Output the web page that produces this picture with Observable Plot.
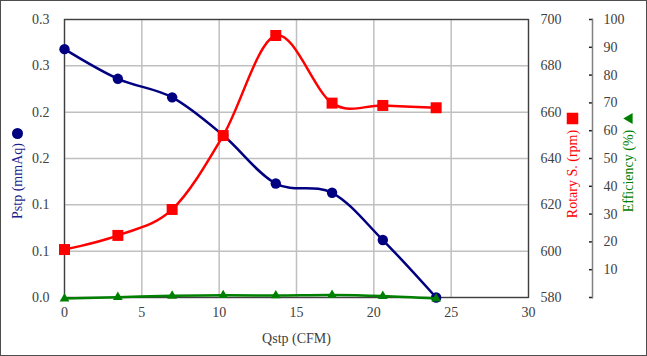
<!DOCTYPE html>
<html><head><meta charset="utf-8">
<script src="https://cdn.jsdelivr.net/npm/d3@7"></script>
<script src="https://cdn.jsdelivr.net/npm/@observablehq/plot@0.6"></script>
<style>
body{margin:0;background:#fff;}
#chart{width:645px;height:354px;border:1px solid #4d4d4d;background:#fff;}
#chart svg, #chart svg text{font-family:"Liberation Serif","Times New Roman","DejaVu Serif",serif !important;}
</style></head><body><div id="chart"></div>
<script>
// Data
const qstp = [0, 3.45, 6.96, 10.26, 13.66, 17.3, 20.58, 24.03];          // Qstp (CFM)
const pstp = [0.268, 0.236, 0.216, 0.175, 0.123, 0.113, 0.062, 0.0];      // Pstp (mmAq)
const rpm  = [600.7, 606.8, 618, 649.9, 693.1, 663.9, 662.9, 661.9];      // Rotary S. (rpm)
const eff  = [-0.4, 0.1, 0.6, 0.8, 0.7, 0.9, 0.5, -0.4];                  // Efficiency (%)

// Ticks and tick labels
const xTicks = [0, 5, 10, 15, 20, 25, 30];
const pstpTicks = [0, 0.05, 0.1, 0.15, 0.2, 0.25, 0.3];
const pstpTickLabels = ["0.0", "0.1", "0.1", "0.2", "0.2", "0.3", "0.3"];
const rpmTicks = [580, 600, 620, 640, 660, 680, 700];
const effTicks = [0, 10, 20, 30, 40, 50, 60, 70, 80, 90, 100];
const effTickLabels = ["", "10", "20", "30", "40", "50", "60", "70", "80", "90", "100"];

// map secondary axes onto the primary y scale [0, 0.3]
const rpmDomain = [580, 700];
const effDomain = [0, 100];
const yMax = 0.3;
const toYrpm = v => (v - rpmDomain[0]) / (rpmDomain[1] - rpmDomain[0]) * yMax;
const toYeff = v => (v - effDomain[0]) / (effDomain[1] - effDomain[0]) * yMax;

const rows = qstp.map((q, i) => ({q, pstp: pstp[i], rpm: rpm[i], eff: eff[i]}));

const pstpLabelMap = new Map(pstpTicks.map((t, i) => [t, pstpTickLabels[i]]));
const rpmY = rpmTicks.map(toYrpm);
const rpmLabelMap = new Map(rpmY.map((t, i) => [t, String(rpmTicks[i])]));
const effY = effTicks.map(toYeff);
const effLabelMap = new Map(effY.map((t, i) => [t, effTickLabels[i]]));

const navy = "#000080", red = "#ff0000", green = "#008000", tickColor = "#404040";
const serif = '"Liberation Serif", "Times New Roman", serif';

const chart = Plot.plot({
  width: 645, height: 354,
  marginLeft: 63, marginRight: 118, marginTop: 18, marginBottom: 58,
  style: {fontFamily: serif, fontSize: "14px", background: "#fff", color: tickColor, overflow: "visible"},
  x: {domain: [0, 30], axis: null},
  y: {domain: [0, yMax], axis: null},
  marks: [
    Plot.gridX(xTicks, {stroke: "#c0c0c0", strokeOpacity: 1, strokeWidth: 1.5}),
    Plot.gridY(pstpTicks, {stroke: "#c0c0c0", strokeOpacity: 1, strokeWidth: 1.5}),
    Plot.frame({stroke: "#404040", strokeWidth: 1.3}),
    Plot.axisX(xTicks, {anchor: "bottom", tickSize: 0, tickPadding: 10, tickFormat: d => String(d), label: null, fill: tickColor}),
    Plot.axisY(pstpTicks, {anchor: "left", tickSize: 0, tickPadding: 15, tickFormat: d => pstpLabelMap.get(d), label: null, fill: tickColor}),
    Plot.axisY(rpmY, {anchor: "right", tickSize: 0, tickPadding: 12, tickFormat: d => rpmLabelMap.get(d), label: null, fill: tickColor}),
    Plot.axisY(effY, {anchor: "right", dx: 64, tickSize: -4, tickPadding: 15, tickFormat: d => effLabelMap.get(d), label: null, fill: tickColor, stroke: "#202020", strokeWidth: 1.5}),
    Plot.frame({anchor: "right", dx: 64, stroke: "#808080", strokeWidth: 1.5}),

    Plot.line(rows, {x: "q", y: "pstp", stroke: navy, strokeWidth: 2.5, curve: "cardinal"}),
    Plot.dot(rows, {x: "q", y: "pstp", r: 5.2, fill: navy, stroke: null}),
    Plot.line(rows, {x: "q", y: d => toYrpm(d.rpm), stroke: red, strokeWidth: 2.5, curve: "cardinal"}),
    Plot.dot(rows, {x: "q", y: d => toYrpm(d.rpm), symbol: "square", r: 6.2, fill: red, stroke: null}),
    Plot.line(rows, {x: "q", y: d => toYeff(d.eff), stroke: green, strokeWidth: 2.5, curve: "cardinal"}),
    Plot.dot(rows, {x: "q", y: d => toYeff(d.eff), symbol: "triangle", r: 3.6, fill: green, stroke: null}),

    // axis titles with legend symbols
    Plot.text(["Qstp (CFM)"], {frameAnchor: "bottom", textAnchor: "middle", lineAnchor: "middle", dy: 41, fill: tickColor, fontFamily: serif}),
    Plot.text(["Pstp (mmAq)"], {frameAnchor: "left", textAnchor: "middle", lineAnchor: "middle", rotate: -90, dx: -47, dy: 22.5, fill: "#1c1c8c", fontFamily: serif}),
    Plot.dot([0], {frameAnchor: "left", dx: -47, dy: -25, r: 5.5, fill: navy, stroke: null}),
    Plot.text(["Rotary S. (rpm)"], {frameAnchor: "right", textAnchor: "middle", lineAnchor: "middle", rotate: -90, dx: 44, dy: 15.5, fill: red, fontFamily: serif}),
    Plot.dot([0], {frameAnchor: "right", dx: 44, dy: -40, symbol: "square", r: 6.5, fill: red, stroke: null}),
    Plot.text(["Efficiency (%)"], {frameAnchor: "right", textAnchor: "middle", lineAnchor: "middle", rotate: -90, dx: 100, dy: 12.5, fill: green, fontFamily: serif}),
    Plot.dot([0], {frameAnchor: "right", dx: 101, dy: -40, symbol: "triangle", r: 4, rotate: -90, fill: green, stroke: null})
  ]
});
document.getElementById("chart").appendChild(chart);
</script>
</body></html>
